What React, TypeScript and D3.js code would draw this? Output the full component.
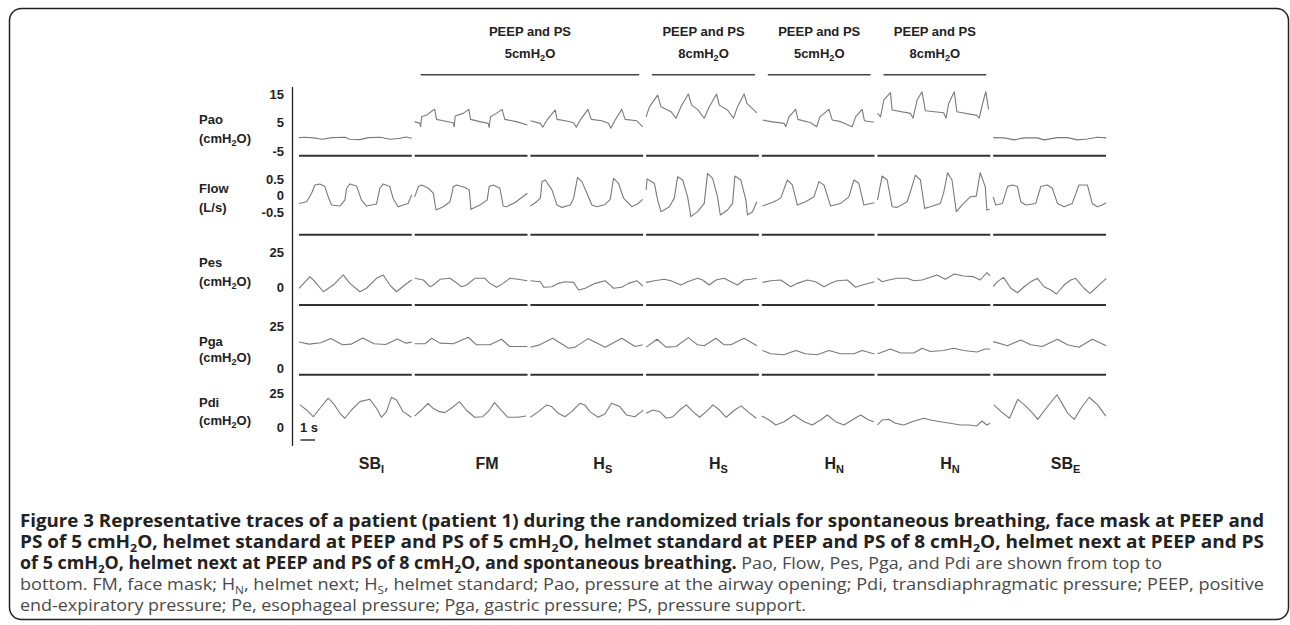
import React from 'react';
import * as d3 from 'd3';

// ---------- categories / labels ----------
const condMain = ['SB', 'FM', 'H', 'H', 'H', 'H', 'SB'];
const condSub = ['I', '', 'S', 'S', 'N', 'N', 'E'];
const headerValues = ['5', '8', '5', '8'];
const headerFrom = [1, 3, 4, 5];
const headerTo = [2, 3, 4, 5];
const rowNames = ['Pao', 'Flow', 'Pes', 'Pga', 'Pdi'];
const rowUnits = ['cmH2O', 'L/s', 'cmH2O', 'cmH2O', 'cmH2O'];
const rowTicks = [[15, 5, -5], [0.5, 0, -0.5], [25, 0], [25, 0], [25, 0]];
const rowDomains = [[-5, 15], [-0.5, 0.5], [0, 25], [0, 25], [0, 25]];
const timeSpan = [0, 7.8];

// ---------- Pao (cmH2O) : [t (s), value] ----------
const paoSBI = [[0, -0.3], [0.4, -0.2], [1.0, -0.4], [1.6, -0.9], [2.3, -0.3], [3.2, -0.2], [3.5, -0.9], [4.2, -1.0], [4.8, -0.3], [5.6, -0.2], [6.3, -0.9], [7.0, -0.5], [7.4, -0.1], [7.8, -0.5]];
const paoFM = [[0, 5.3], [0.37, 4.7], [0.41, 3.5], [0.48, 7.0], [0.83, 7.6], [1.28, 9.4], [1.38, 9.6], [1.51, 6.1], [1.97, 5.6], [2.66, 4.9], [2.73, 3.5], [2.8, 7.3], [3.35, 8.2], [3.74, 9.6], [3.86, 6.1], [4.5, 5.3], [5.08, 4.7], [5.15, 3.3], [5.24, 7.0], [5.65, 8.2], [6.04, 9.6], [6.23, 6.1], [7.03, 5.3], [7.79, 4.1]];
const paoHS = [[0, 5.6], [0.69, 4.7], [0.85, 3.3], [1.15, 5.9], [1.72, 9.4], [1.84, 6.1], [2.41, 5.6], [2.99, 4.9], [3.17, 3.3], [3.45, 5.9], [3.98, 9.6], [4.21, 6.1], [4.94, 5.6], [5.4, 4.7], [5.56, 3.0], [5.86, 5.9], [6.32, 9.6], [6.55, 6.1], [7.36, 5.6], [7.77, 3.5]];
const paoHS8 = [[0, 7.0], [0.23, 10.5], [0.8, 14.6], [1.03, 10.5], [1.72, 8.8], [2.07, 6.5], [2.41, 10.5], [2.92, 15.0], [3.15, 11.1], [3.56, 9.6], [4.02, 6.5], [4.37, 10.5], [4.87, 15.0], [5.06, 11.1], [5.63, 9.4], [6.04, 6.5], [6.32, 10.5], [6.78, 15.0], [6.97, 11.7], [7.66, 8.4]];
const paoHN = [[0.05, 5.9], [0.62, 5.3], [1.54, 4.7], [1.66, 3.5], [1.88, 7.0], [2.34, 9.6], [2.5, 6.1], [3.38, 4.9], [3.79, 3.5], [4.02, 7.0], [4.64, 9.6], [4.87, 5.9], [5.45, 5.3], [6.25, 3.5], [6.48, 7.0], [6.94, 9.6], [7.1, 5.6], [7.75, 5.1]];
const paoHN8 = [[0, 8.2], [0.21, 7.0], [0.44, 12.9], [0.9, 15.5], [1.01, 9.4], [2.28, 8.2], [2.46, 6.5], [2.74, 12.9], [3.08, 15.8], [3.31, 9.1], [4.57, 8.4], [4.74, 6.5], [4.92, 11.7], [5.31, 15.8], [5.49, 8.8], [6.87, 7.5], [7.03, 6.5], [7.33, 12.9], [7.49, 15.8], [7.68, 9.6]];
const paoSBE = [[0, -0.3], [0.76, -0.4], [1.45, -1.1], [2.14, -0.4], [3.06, -0.4], [3.52, -1.1], [4.44, -0.3], [5.13, -0.3], [5.82, -1.1], [6.51, -0.8], [7.2, -0.2], [7.82, -0.4]];

// ---------- Flow (L/s) ----------
const flowSBI = [[0, -0.24], [0.53, -0.19], [0.87, 0.07], [1.1, 0.32], [1.44, 0.35], [1.79, 0.27], [2.02, -0.04], [2.25, -0.29], [2.83, -0.32], [3.17, -0.14], [3.29, 0.22], [3.52, 0.35], [3.98, 0.29], [4.32, -0.14], [4.67, -0.32], [5.36, -0.26], [5.59, 0.22], [5.82, 0.35], [6.28, 0.27], [6.51, -0.09], [6.85, -0.34], [7.54, -0.24], [7.79, 0.02]];
const flowFM = [[0, -0.04], [0.25, 0.27], [0.48, 0.32], [0.94, 0.22], [1.29, 0.07], [1.47, -0.44], [1.98, -0.34], [2.44, -0.19], [2.67, 0.27], [2.9, 0.32], [3.47, 0.24], [3.77, 0.17], [3.89, -0.42], [4.51, -0.29], [5.01, -0.14], [5.15, 0.27], [5.43, 0.32], [5.89, 0.22], [6.12, -0.32], [6.34, -0.34], [6.92, -0.22], [7.79, 0.07]];
const flowHS = [[0, -0.32], [0.34, -0.22], [0.69, -0.08], [0.8, 0.42], [1.03, 0.47], [1.49, 0.17], [1.84, -0.29], [2.18, -0.36], [2.76, -0.29], [2.99, -0.08], [3.26, 0.55], [3.56, 0.42], [3.91, 0.07], [4.25, -0.29], [4.6, -0.34], [5.17, -0.27], [5.52, -0.12], [5.75, 0.52], [6.09, 0.37], [6.44, -0.08], [7.01, -0.34], [7.43, -0.25], [7.77, -0.12]];
const flowHS8 = [[0, 0.17], [0.07, 0.5], [0.57, 0.37], [0.8, -0.14], [1.03, -0.49], [1.61, -0.34], [1.95, -0.08], [2.18, 0.57], [2.53, 0.47], [2.87, -0.04], [3.1, -0.64], [3.56, -0.49], [4.02, -0.24], [4.25, 0.67], [4.6, 0.52], [4.94, -0.04], [5.13, -0.59], [5.63, -0.44], [5.98, -0.24], [6.14, 0.59], [6.55, 0.47], [6.9, -0.14], [7.01, -0.59], [7.36, -0.49], [7.66, -0.19]];
const flowHN = [[0.05, -0.32], [0.85, -0.19], [1.31, -0.08], [1.77, 0.47], [2.11, 0.32], [2.46, -0.29], [3.03, -0.19], [3.61, -0.04], [3.95, 0.42], [4.3, 0.32], [4.76, -0.32], [5.45, -0.24], [6.02, -0.04], [6.37, 0.47], [6.71, 0.37], [7.06, -0.29], [7.79, -0.22]];
const flowHN8 = [[0, -0.14], [0.32, 0.59], [0.67, 0.47], [1.01, -0.34], [1.36, -0.36], [2.05, -0.19], [2.28, 0.12], [2.62, 0.62], [2.97, 0.47], [3.26, -0.39], [3.66, -0.34], [4.34, -0.24], [4.57, 0.07], [4.85, 0.69], [5.15, 0.47], [5.45, -0.49], [5.84, -0.29], [6.41, -0.04], [6.83, -0.02], [7.1, 0.69], [7.45, 0.27], [7.56, -0.44], [7.75, -0.42]];
const flowSBE = [[0, -0.04], [0.18, -0.29], [0.64, -0.24], [0.99, 0.27], [1.33, 0.32], [1.68, 0.27], [1.91, -0.19], [2.25, -0.29], [2.94, -0.24], [3.29, 0.27], [3.75, 0.32], [4.09, 0.22], [4.44, -0.24], [4.9, -0.34], [5.47, -0.24], [5.93, 0.32], [6.51, 0.32], [6.85, -0.24], [7.2, -0.34], [7.54, -0.29], [7.82, -0.22]];

// ---------- Pes (cmH2O) ----------
const pesSBI = [[0, -0.4], [0.76, 7.9], [1.1, 4.3], [1.68, -2.9], [2.37, 1.9], [3.06, 9.1], [3.52, 3.1], [4.21, -2.9], [4.67, -0.4], [5.36, 6.7], [5.82, 9.1], [6.28, 1.9], [6.74, -2.9], [7.31, 1.9], [7.79, 5.5]];
const pesFM = [[0, 6.7], [0.6, 5.5], [1.06, 0.7], [1.29, 1.9], [1.75, 6.0], [2.44, 6.7], [2.78, 4.3], [3.24, 0.7], [3.59, 1.9], [4.16, 6.7], [4.85, 6.7], [5.2, 3.1], [5.66, 0.3], [6.12, 3.1], [6.57, 6.7], [7.15, 6.0], [7.79, 5.0]];
const pesHS = [[0, 5.0], [0.69, 4.3], [0.92, 0.3], [1.49, 0.7], [1.95, 3.1], [2.41, 4.3], [2.99, 3.8], [3.33, -1.6], [3.79, -0.4], [4.48, 3.1], [5.17, 5.0], [5.75, -0.4], [6.32, 0.3], [6.78, 3.1], [7.36, 5.0], [7.77, 1.2]];
const pesHS8 = [[0, 3.8], [0.57, 5.0], [1.26, 6.0], [1.72, 5.0], [2.41, 1.9], [2.87, 4.3], [3.56, 6.7], [3.91, 5.5], [4.37, 1.9], [4.83, 5.5], [5.4, 6.7], [5.86, 4.3], [6.32, 1.9], [6.78, 5.5], [7.24, 6.0], [7.66, 6.7]];
const pesHN = [[0.05, 3.8], [0.62, 5.0], [1.31, 5.5], [2.0, 0.7], [2.46, 3.1], [3.15, 5.5], [3.72, 4.3], [4.3, 0.7], [4.76, 3.1], [5.22, 5.0], [5.91, 5.5], [6.48, 0.3], [6.94, 1.9], [7.79, 4.3]];
const pesHN8 = [[0, 6.7], [0.32, 4.3], [0.78, 5.5], [1.36, 6.7], [2.05, 6.7], [2.51, 5.0], [3.08, 5.5], [3.66, 7.4], [4.11, 9.1], [4.69, 6.0], [5.31, 9.8], [5.95, 8.4], [6.64, 7.9], [7.1, 5.5], [7.56, 10.7], [7.79, 8.4]];
const pesSBE = [[0, 0.7], [0.3, 4.3], [0.71, 7.4], [1.22, -0.4], [1.68, -3.6], [2.14, 0.7], [2.6, 4.3], [3.06, 6.7], [3.52, 0.7], [3.98, -1.6], [4.37, -4.5], [4.9, 1.9], [5.36, 5.5], [5.7, 6.7], [6.28, -0.4], [6.69, -4.0], [7.2, 0.7], [7.82, 6.7]];

// ---------- Pga (cmH2O) ----------
const pgaSBI = [[0, 15.5], [0.7, 14.2], [1.5, 15.0], [2.2, 17.5], [3.0, 13.8], [3.6, 14.2], [4.4, 17.8], [5.2, 14.4], [6.0, 14.0], [6.8, 17.2], [7.4, 14.8], [7.8, 15.4]];
const pgaFM = [[0, 14.4], [0.71, 14.4], [1.17, 17.7], [1.75, 14.8], [2.67, 14.4], [3.7, 18.3], [4.28, 13.8], [5.2, 13.8], [6.0, 17.1], [6.57, 12.8], [7.79, 12.8]];
const pgaHS = [[0, 12.4], [0.57, 13.6], [1.54, 17.7], [2.64, 11.8], [3.1, 12.4], [3.98, 17.5], [5.17, 12.4], [6.32, 17.7], [7.24, 12.8], [7.77, 13.8]];
const pgaHS8 = [[0, 12.4], [0.76, 17.1], [1.38, 12.4], [2.07, 12.8], [2.92, 18.1], [3.56, 13.8], [4.02, 13.2], [4.83, 17.7], [5.4, 13.8], [5.86, 13.8], [6.78, 17.7], [7.66, 13.2]];
const pgaHN = [[0.05, 10.4], [0.62, 8.5], [1.54, 7.9], [2.34, 10.4], [3.03, 8.5], [3.83, 7.9], [4.64, 10.4], [5.45, 8.5], [6.37, 8.5], [6.94, 10.4], [7.79, 8.3]];
const pgaHN8 = [[0, 8.5], [0.9, 11.3], [1.59, 8.9], [2.51, 8.9], [3.08, 11.8], [3.66, 9.8], [4.57, 10.4], [5.26, 11.8], [5.95, 10.4], [6.87, 9.5], [7.45, 11.3], [7.79, 11.3]];
const pgaSBE = [[0, 15.7], [0.99, 13.2], [1.91, 16.7], [2.6, 13.8], [3.4, 12.8], [4.44, 17.1], [5.13, 13.8], [5.93, 12.4], [6.85, 17.1], [7.82, 13.2]];

// ---------- Pdi (cmH2O) ----------
const pdiSBI = [[0.07, 16.3], [0.53, 12.6], [0.99, 7.7], [1.45, 13.9], [2.02, 21.2], [2.37, 17.5], [2.83, 10.2], [3.17, 6.6], [3.63, 12.6], [4.21, 18.7], [4.9, 20.4], [5.36, 13.9], [5.7, 7.3], [6.05, 11.4], [6.39, 21.9], [6.74, 19.9], [7.2, 11.4], [7.54, 9.0], [7.77, 7.3]];
const pdiFM = [[0, 8.2], [0.46, 12.6], [0.92, 17.5], [1.26, 13.9], [1.72, 11.4], [2.07, 10.7], [2.53, 13.9], [3.1, 18.7], [3.56, 12.6], [4.14, 7.3], [4.71, 7.7], [5.17, 12.6], [5.52, 18.0], [5.98, 12.6], [6.44, 7.3], [7.13, 7.3], [7.7, 8.2]];
const pdiHS = [[0, 7.3], [0.55, 11.4], [1.13, 16.3], [1.47, 15.1], [1.93, 10.2], [2.39, 7.7], [2.85, 11.4], [3.42, 17.5], [3.77, 16.3], [4.11, 11.4], [4.69, 7.3], [5.15, 9.7], [5.61, 17.5], [6.18, 15.1], [6.64, 9.0], [7.22, 7.7], [7.68, 11.4], [7.8, 12.6]];
const pdiHS8 = [[0, 10.2], [0.48, 12.6], [0.94, 11.4], [1.4, 6.6], [1.86, 7.7], [2.32, 12.6], [2.78, 16.3], [3.24, 11.4], [3.7, 7.3], [4.16, 11.4], [4.62, 16.3], [5.08, 12.6], [5.54, 7.3], [6.12, 12.6], [6.57, 15.6], [7.03, 11.4], [7.61, 6.6]];
const pdiHN = [[0, 8.2], [0.51, 5.3], [0.97, 1.7], [1.54, 4.1], [2.23, 9.0], [2.92, 4.1], [3.49, 1.7], [4.07, 5.3], [4.53, 9.0], [5.1, 4.1], [5.68, 1.7], [6.25, 5.3], [6.83, 9.0], [7.4, 5.3], [7.75, 4.1]];
const pdiHN8 = [[0, 1.7], [0.32, 5.3], [0.78, 5.8], [1.24, 2.9], [1.82, 1.7], [2.39, 4.1], [3.2, 6.6], [3.66, 5.3], [4.35, 4.1], [5.03, 2.9], [5.72, 1.7], [6.3, 1.7], [6.87, 1.0], [7.22, 4.6], [7.56, 1.7], [7.79, 2.9]];
const pdiSBE = [[0.05, 16.3], [0.55, 11.4], [1.13, 6.6], [1.7, 20.4], [2.16, 16.3], [2.74, 10.2], [3.08, 5.8], [3.66, 13.9], [4.12, 19.9], [4.41, 23.6], [4.69, 18.7], [5.15, 10.2], [5.61, 5.8], [6.07, 13.9], [6.64, 21.9], [7.22, 16.3], [7.79, 8.1]];

const traces = [
  [paoSBI, paoFM, paoHS, paoHS8, paoHN, paoHN8, paoSBE],
  [flowSBI, flowFM, flowHS, flowHS8, flowHN, flowHN8, flowSBE],
  [pesSBI, pesFM, pesHS, pesHS8, pesHN, pesHN8, pesSBE],
  [pgaSBI, pgaFM, pgaHS, pgaHS8, pgaHN, pgaHN8, pgaSBE],
  [pdiSBI, pdiFM, pdiHS, pdiHS8, pdiHN, pdiHN8, pdiSBE],
];

// ---------- layout ----------
const W = 1290;
const H = 625;
const rowRanges = [[151, 94], [212, 179], [287.7, 252.7], [368, 326], [427.3, 393]];
const rowLabelY = [119, 188, 262, 341, 402];
const rowUnitY = [138, 207.5, 281.5, 357.5, 420];
const baselineY = [155.7, 234.7, 305, 374.7];
const LABEL_FONT = '"Liberation Sans", Arial, Helvetica, sans-serif';
const CAP_FONT = '"Open Sans", "Noto Sans", sans-serif';

function Unit({ u }: { u: string }) {
  if (u === 'cmH2O') {
    return (
      <>
        <tspan>(cmH</tspan>
        <tspan fontSize={9} dy={3}>2</tspan>
        <tspan dy={-3}>O)</tspan>
      </>
    );
  }
  return <tspan>({u})</tspan>;
}

function H2O({ size }: { size: number }) {
  return (
    <>
      <tspan>cmH</tspan>
      <tspan fontSize={size * 0.7} dy={size * 0.25}>2</tspan>
      <tspan dy={-size * 0.25}>O</tspan>
    </>
  );
}

export default function App() {
  const band = d3.scaleBand<number>().domain(d3.range(7)).range([299, 1106]).paddingInner(0.025).paddingOuter(0);
  const bw = band.bandwidth();
  const yScales = rowDomains.map((d, i) => d3.scaleLinear().domain(d).range(rowRanges[i]));
  const boldFill = '#222';
  const regFill = '#4a4a4a';

  return (
    <svg width={W} height={H} style={{ position: 'absolute', left: 0, top: 0, background: '#fff' }}>
      <rect x={9.5} y={8.5} width={1279} height={611} rx={12} ry={12} fill="none" stroke="#222" strokeWidth={1.5} />

      {/* header groups */}
      {headerValues.map((v, i) => {
        const x0 = (band(headerFrom[i]) as number) + 6;
        const x1 = (band(headerTo[i]) as number) + bw - 4;
        const cx = (x0 + x1) / 2;
        return (
          <g key={'h' + i} fontFamily={LABEL_FONT} fontWeight="bold" fontSize={13} fill="#222" textAnchor="middle">
            <text x={cx} y={35.5}>PEEP and PS</text>
            <text x={cx} y={57.5}>{v}<H2O size={13} /></text>
            <line x1={x0} x2={x1} y1={74.7} y2={74.7} stroke="#444" strokeWidth={1.5} />
          </g>
        );
      })}

      {/* vertical axis */}
      <line x1={292.5} x2={292.5} y1={87} y2={446} stroke="#222" strokeWidth={1.3} />

      {/* row labels & ticks */}
      {rowNames.map((n, r) => (
        <g key={'r' + r} fontFamily={LABEL_FONT} fontWeight="bold" fontSize={13} fill="#222">
          <text x={199} y={rowLabelY[r] + 4.5}>{n}</text>
          <text x={199} y={rowUnitY[r] + 4.5}><Unit u={rowUnits[r]} /></text>
          {rowTicks[r].map((t, k) => (
            <text key={k} x={284} y={yScales[r](t) + 4.5} textAnchor="end">{String(t)}</text>
          ))}
        </g>
      ))}

      {/* traces */}
      {traces.map((row, r) =>
        row.map((tr, c) => {
          const xs = d3.scaleLinear().domain(timeSpan).range([band(c) as number, (band(c) as number) + bw]);
          const line = d3.line<number[]>().x((d) => xs(d[0])).y((d) => yScales[r](d[1]));
          return <path key={r + '-' + c} d={line(tr) || ''} fill="none" stroke="#7a7a7a" strokeWidth={1.1} strokeLinejoin="round" />;
        })
      )}

      {/* baselines */}
      {baselineY.map((y, r) =>
        d3.range(7).map((c) => (
          <line key={'b' + r + c} x1={band(c) as number} x2={(band(c) as number) + bw} y1={y} y2={y} stroke="#333" strokeWidth={2} />
        ))
      )}

      {/* 1 s scale bar */}
      {(() => {
        const xs = d3.scaleLinear().domain(timeSpan).range([band(0) as number, (band(0) as number) + bw]);
        return (
          <g>
            <text x={300} y={432} fontFamily={LABEL_FONT} fontWeight="bold" fontSize={13} fill="#222">1 s</text>
            <line x1={xs(0) + 1.5} x2={xs(1) + 1.5} y1={440} y2={440} stroke="#333" strokeWidth={1.5} />
          </g>
        );
      })()}

      {/* condition labels */}
      {condMain.map((m, c) => (
        <text key={'c' + c} x={(band(c) as number) + bw / 2 + 16} y={468.5} textAnchor="middle" fontFamily={LABEL_FONT} fontWeight="bold" fontSize={16} fill="#222">
          <tspan>{m}</tspan>
          {condSub[c] ? <tspan fontSize={11} dy={4}>{condSub[c]}</tspan> : null}
        </text>
      ))}

      {/* caption */}
      <g fontFamily={CAP_FONT} fontSize={17}>
        <text x={20} y={526.5} textLength={1244} lengthAdjust="spacingAndGlyphs" fill={boldFill} fontWeight="bold">
          Figure 3 Representative traces of a patient (patient 1) during the randomized trials for spontaneous breathing, face mask at PEEP and
        </text>
        <text x={20} y={547.5} textLength={1244} lengthAdjust="spacingAndGlyphs" fill={boldFill} fontWeight="bold">
          <tspan>PS of 5 cmH</tspan><tspan fontSize={11} dy={4}>2</tspan><tspan dy={-4}>O, helmet standard at PEEP and PS of 5 cmH</tspan><tspan fontSize={11} dy={4}>2</tspan><tspan dy={-4}>O, helmet standard at PEEP and PS of 8 cmH</tspan><tspan fontSize={11} dy={4}>2</tspan><tspan dy={-4}>O, helmet next at PEEP and PS</tspan>
        </text>
        <text x={20} y={568.5} textLength={1142} lengthAdjust="spacingAndGlyphs" fill={boldFill}>
          <tspan fontWeight="bold">of 5 cmH</tspan><tspan fontWeight="bold" fontSize={11} dy={4}>2</tspan><tspan fontWeight="bold" dy={-4}>O, helmet next at PEEP and PS of 8 cmH</tspan><tspan fontWeight="bold" fontSize={11} dy={4}>2</tspan><tspan fontWeight="bold" dy={-4}>O, and spontaneous breathing.</tspan><tspan fill={regFill}> Pao, Flow, Pes, Pga, and Pdi are shown from top to</tspan>
        </text>
        <text x={20} y={589.5} textLength={1244} lengthAdjust="spacingAndGlyphs" fill={regFill}>
          <tspan>bottom. FM, face mask; H</tspan><tspan fontSize={11} dy={4}>N</tspan><tspan dy={-4}>, helmet next; H</tspan><tspan fontSize={11} dy={4}>S</tspan><tspan dy={-4}>, helmet standard; Pao, pressure at the airway opening; Pdi, transdiaphragmatic pressure; PEEP, positive</tspan>
        </text>
        <text x={20} y={610.5} textLength={786} lengthAdjust="spacingAndGlyphs" fill={regFill}>
          end-expiratory pressure; Pe, esophageal pressure; Pga, gastric pressure; PS, pressure support.
        </text>
      </g>
    </svg>
  );
}
